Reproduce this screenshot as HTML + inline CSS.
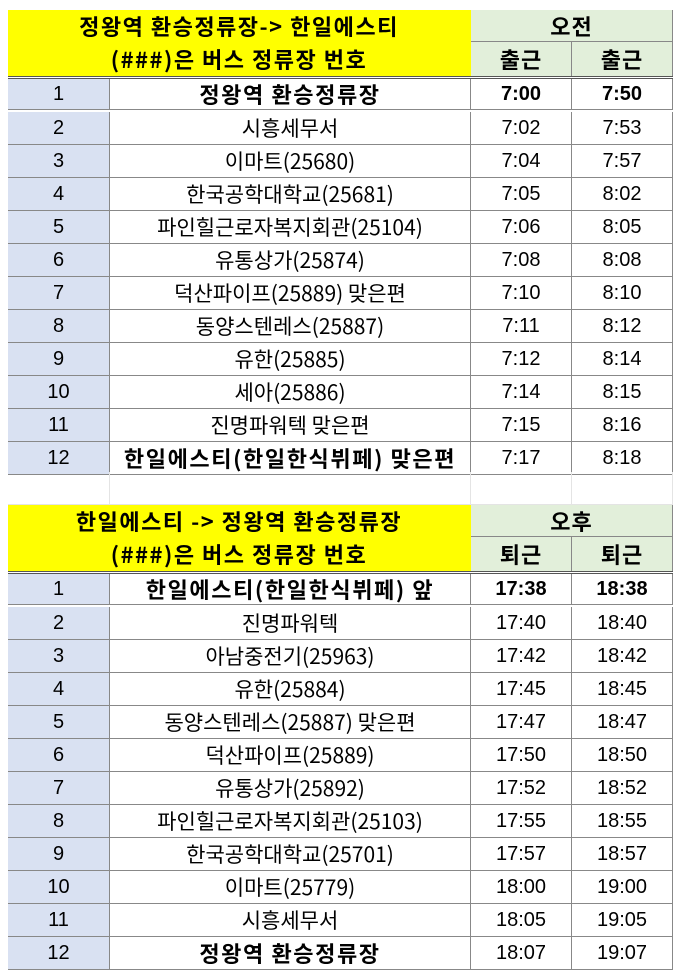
<!DOCTYPE html>
<html><head><meta charset="utf-8">
<style>
body{margin:0;width:679px;height:973px;background:#fff;position:relative;overflow:hidden;font-family:"Liberation Sans","Noto Sans CJK KR",sans-serif;color:#000}
.c{position:absolute;box-sizing:border-box;display:flex;align-items:center;justify-content:center;font-size:20px;border-right:1px solid #888;border-bottom:1px solid #888;white-space:nowrap;overflow:hidden;line-height:1}
.y{background:#ffff00;font-weight:bold;border-color:#ffff00;font-family:"Noto Sans CJK KR",sans-serif;font-size:22px;letter-spacing:1.5px}
.g{background:#e2efda;font-weight:bold;font-family:"Noto Sans CJK KR",sans-serif;font-size:22px;letter-spacing:1px}
.n{background:#d9e1f2}
.s{font-family:"Noto Sans CJK KR",sans-serif;font-size:21px;letter-spacing:0px}
.s.b{font-size:22px;letter-spacing:1.6px}
.b{font-weight:bold}
</style></head><body>
<div id="t"></div>
<script>
const amStops=["정왕역 환승정류장","시흥세무서","이마트(25680)","한국공학대학교(25681)","파인힐근로자복지회관(25104)","유통상가(25874)","덕산파이프(25889) 맞은편","동양스텐레스(25887)","유한(25885)","세아(25886)","진명파워텍 맞은편","한일에스티(한일한식뷔페) 맞은편"];
const amT1=["7:00","7:02","7:04","7:05","7:06","7:08","7:10","7:11","7:12","7:14","7:15","7:17"];
const amT2=["7:50","7:53","7:57","8:02","8:05","8:08","8:10","8:12","8:14","8:15","8:16","8:18"];
const pmStops=["한일에스티(한일한식뷔페) 앞","진명파워텍","아남중전기(25963)","유한(25884)","동양스텐레스(25887) 맞은편","덕산파이프(25889)","유통상가(25892)","파인힐근로자복지회관(25103)","한국공학대학교(25701)","이마트(25779)","시흥세무서","정왕역 환승정류장"];
const pmT1=["17:38","17:40","17:42","17:45","17:47","17:50","17:52","17:55","17:57","18:00","18:05","18:07"];
const pmT2=["18:38","18:40","18:42","18:45","18:47","18:50","18:52","18:55","18:57","19:00","19:05","19:07"];
const X=[8,110,471,572,673];
const t=document.getElementById('t');
function cell(x,y,w,h,txt,cls,name){
 const d=document.createElement('div');
 d.className='c '+cls;
 d.style.left=x+'px';d.style.top=y+'px';d.style.width=w+'px';d.style.height=h+'px';
 d.textContent=txt;
 
 
 t.appendChild(d);return d;
}
function section(y0,title,period,kind,stops,t1,t2,boldLast,pfx){
 cell(X[0],y0,X[2]-X[0],32,title,'y',pfx+'-title');
 cell(X[0],y0+32,X[2]-X[0],35,'(###)은 버스 정류장 번호','y',pfx+'-note');
 cell(X[2],y0,X[4]-X[2],32,period,'g',pfx+'-period');
 cell(X[2],y0+32,X[3]-X[2],35,kind,'g',pfx+'-kind-1');
 cell(X[3],y0+32,X[4]-X[3],35,kind,'g',pfx+'-kind-2');
 const ys=y0+67;
 const line=document.createElement('div');
 line.style.cssText='position:absolute;left:8px;width:665px;height:3px;border-top:1px solid #555;border-bottom:1px solid #555;top:'+(ys-1)+'px;box-sizing:border-box';
 
 
 t.appendChild(line);
 for(let i=0;i<stops.length;i++){
  const y=ys+2+i*33,h=i==0?31:33;const yy=i==0?ys+2:y;
  const bn=(i==0||(boldLast&&i==stops.length-1))?' b':'';
  const bt=i==0?' b':'';
  cell(X[0],yy,X[1]-X[0],h,String(i+1),'n',pfx+'-row-number');
  cell(X[1],yy,X[2]-X[1],h,stops[i],'s'+bn,pfx+'-stop-name');
  cell(X[2],yy,X[3]-X[2],h,t1[i],bt,pfx+'-time-1');
  cell(X[3],yy,X[4]-X[3],h,t2[i],bt,pfx+'-time-2');
 }
}
section(10,'정왕역 환승정류장-> 한일에스티','오전','출근',amStops,amT1,amT2,true,'am');
for(let k=0;k<4;k++){
 const g=cell(X[k],472,X[k+1]-X[k],33,'','','gap-cell');
 g.style.borderColor='#e4e4e4';
}
section(505,'한일에스티 -> 정왕역 환승정류장','오후','퇴근',pmStops,pmT1,pmT2,true,'pm');
</script>
</body></html>
